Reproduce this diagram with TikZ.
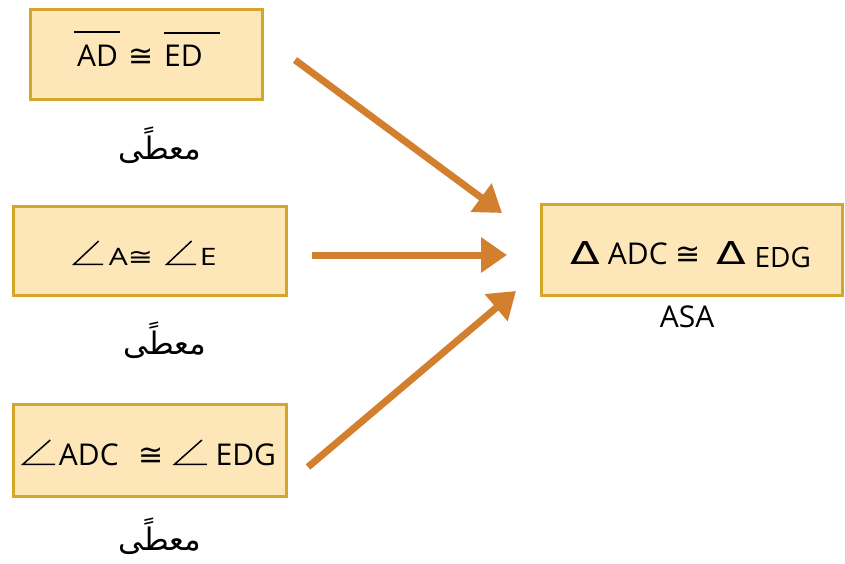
\documentclass[tikz,border=0pt]{standalone}
\usepackage{fontspec}
\usepackage{graphicx}
\setmainfont{Open Sans}
\newfontfamily\symfont{DejaVu Sans}
\newfontfamily\arabicfont[Script=Arabic]{DejaVu Sans}
\TeXXeTstate=1
\usetikzlibrary{arrows.meta}
% segment with a bar over it: #1 kern before, #2 letters, #3 kern after
\newcommand\seg[3]{\vbox{\hrule height 2pt\kern 12pt\hbox{\kern#1#2\kern#3}}}
% thin angle sign, #1 wide and #2 high
\newcommand\ang[2]{\tikz[baseline=0pt,x=1pt,y=1pt]
  \draw[line width=1.5pt,line join=miter] (#1,0.75)--(0.75,0.75)--(0.85*#1,#2);}
\newcommand\congr{{\symfont ≅}}
\newcommand\tri{{\symfont\scalebox{1.45}[1.05]{Δ}}}
% letters squeezed vertically
\newcommand\sq[1]{\scalebox{1}[0.8]{#1}}
\definecolor{boxfill}{HTML}{FDE7B9}
\definecolor{boxline}{HTML}{D6A52C}
\definecolor{arrowc}{HTML}{D2802E}
\begin{document}
\begin{tikzpicture}[x=1pt,y=-1pt,
  fact/.style={draw=boxline,line width=3pt,fill=boxfill,inner sep=0pt},
  stmt/.style={anchor=base west,inner sep=0pt,font=\fontsize{30}{34}\selectfont},
  given/.style={font=\arabicfont\fontsize{31}{36}\selectfont},
  link/.style={draw=arrowc,line width=7pt,-{Triangle[length=26pt,width=34pt]}}]
\useasboundingbox (0,0) rectangle (845,564);
% statement boxes
\node[fact,minimum width=232pt,minimum height=90pt] (b1) at (146,55) {};
\node[fact,minimum width=273pt,minimum height=89pt] (b2) at (149.5,250.5) {};
\node[fact,minimum width=273pt,minimum height=92pt] (b3) at (149.5,450) {};
\node[fact,minimum width=301pt,minimum height=91pt] (b4) at (692,249.5) {};
% statements
\node[stmt] (t1) at (74,67)
  {\seg{3pt}{AD}{2pt}\hspace{8pt}\congr\hspace{11pt}\seg{0pt}{ED}{17pt}};
\node[stmt] (t2) at (73,265)
  {\ang{30}{24}\hspace{5pt}\sq{A}\sq{\congr}\hspace{13pt}\ang{30}{24}\hspace{3pt}\sq{E}};
\node[stmt] (t3) at (22,465)
  {\ang{33}{25}\hspace{3pt}ADC\hspace{20pt}\congr\hspace{10pt}\ang{33}{25}\hspace{8pt}EDG};
\node[stmt] (t4) at (570,264)
  {\tri\hspace{8pt}ADC\hspace{8pt}\congr\hspace{16pt}\tri\hspace{8pt}{\fontsize{28}{32}\selectfont\raisebox{-3pt}{EDG}}};
% reasons
\node[given] (g1) at (160,145) {\beginR معطًى\endR};
\node[given] (g2) at (165,340) {\beginR معطًى\endR};
\node[given] (g3) at (160,536) {\beginR معطًى\endR};
\node[stmt,anchor=base] (asa) at (687,327) {ASA};
% arrows into the conclusion
\coordinate (s1) at (295,60);
\coordinate (e1) at (502,213);
\coordinate (s2) at (312,255);
\coordinate (e2) at (507,255);
\coordinate (s3) at (308,467);
\coordinate (e3) at (516,291);
\draw[link] (s1) -- (e1);
\draw[link] (s2) -- (e2);
\draw[link] (s3) -- (e3);
\end{tikzpicture}
\end{document}
